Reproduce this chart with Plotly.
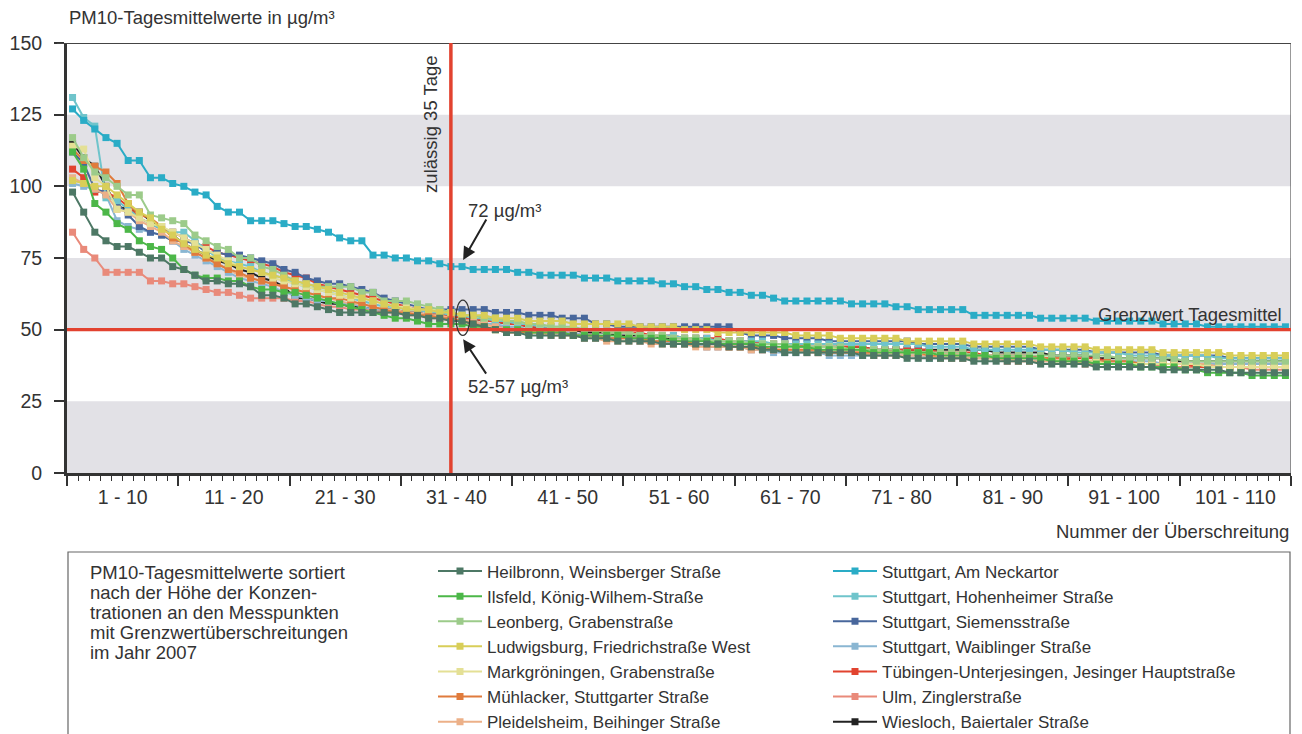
import plotly.graph_objects as go

# ---------------- data ----------------
exceed_no = list(range(1, 111))
x_tick_labels = ["1 - 10", "11 - 20", "21 - 30", "31 - 40", "41 - 50", "51 - 60",
                 "61 - 70", "71 - 80", "81 - 90", "91 - 100", "101 - 110"]
y_ticks = [0, 25, 50, 75, 100, 125, 150]

heilbronn = [98,91,84,81,79,79,77,75,75,72, 71,69,67,67,66,66,65,62,62,61,
             59,59,58,57,56,56,56,56,56,56, 55,55,54,54,53,53,52,51,50,49,
             49,48,48,48,48,48,47,47,47,46, 46,46,46,45,45,45,45,45,45,44,
             44,44,43,43,42,42,42,42,42,42, 42,41,41,41,41,40,40,40,40,40,
             40,39,39,39,39,39,39,38,38,38, 38,38,37,37,37,37,37,37,36,36,
             36,36,36,36,35,35,35,35,35,35]
ilsfeld = [112,106,94,91,87,85,81,79,78,75, 71,69,68,68,67,67,65,64,64,63,
           63,62,61,60,59,58,57,56,55,54, 54,53,52,52,52,52,51,51,50,50,
           50,49,49,49,49,48,48,48,48,48, 47,47,47,47,46,46,46,46,45,45,
           45,45,44,44,44,44,44,43,43,43, 43,43,42,42,42,42,42,42,41,41,
           41,41,41,40,40,40,40,40,39,39, 39,39,38,38,38,38,37,37,37,37,
           36,36,35,35,35,35,34,34,34,34]
leonberg = [117,110,105,103,100,97,97,90,89,88, 87,83,81,79,78,75,75,72,71,69,
            67,66,65,65,65,65,63,63,60,60, 60,59,58,57,56,55,55,54,54,53,
            53,52,52,51,51,51,50,50,49,49, 49,48,48,48,47,47,47,46,46,46,
            46,45,45,45,45,44,44,44,44,44, 43,43,43,43,43,42,42,42,42,42,
            42,41,41,41,41,41,41,41,41,41, 41,41,41,41,40,40,40,40,40,40,
            39,39,39,39,39,39,39,39,39,39]
ludwigsburg = [102,101,100,100,97,94,91,89,85,83, 80,78,76,75,73,72,71,70,69,68,
               67,66,65,64,63,62,61,60,59,58, 57,57,57,56,56,55,55,55,54,54,
               54,53,53,53,53,52,52,52,52,52, 52,51,51,51,51,50,50,50,49,49,
               49,49,49,49,49,48,48,48,48,47, 47,47,47,47,47,46,46,46,46,46,
               46,45,45,45,45,45,45,44,44,44, 44,44,43,43,43,43,43,43,42,42,
               42,42,42,42,41,41,41,41,41,41]
markgroeningen = [114,113,103,100,92,91,89,87,86,84, 82,80,78,76,74,72,71,70,68,67,
                  66,65,64,63,62,61,61,60,59,58, 58,57,57,57,56,55,55,54,54,53,
                  53,52,52,51,51,50,50,50,49,49, 49,48,48,48,47,47,47,46,46,46,
                  46,45,45,45,45,44,44,44,44,43, 43,43,43,42,42,42,42,42,41,41,
                  41,41,41,40,40,40,40,40,39,39, 39,39,39,38,38,38,38,38,38,38,
                  38,38,37,37,37,37,37,37,37,37]
muehlacker = [113,109,107,105,101,94,90,89,86,82, 80,77,75,73,71,70,68,67,66,65,
              64,63,62,61,61,60,59,58,57,56, 56,55,55,54,54,53,52,51,50,49,
              49,49,49,49,49,48,48,48,47,47, 47,47,46,46,46,46,45,45,45,44,
              44,44,44,43,43,43,43,43,42,42, 42,42,42,42,42,42,42,41,41,41,
              41,41,41,40,40,40,40,40,40,40, 39,39,39,39,39,39,38,38,38,38,
              38,38,37,37,37,37,37,37,37,37]
pleidelsheim = [103,101,99,97,92,91,88,86,84,81, 79,77,75,73,71,69,68,67,66,65,
                64,63,62,61,60,59,59,58,57,57, 56,56,55,55,54,53,53,52,51,50,
                50,49,49,48,48,48,47,47,46,46, 46,46,45,45,45,45,44,44,44,44,
                44,43,43,43,43,43,42,42,42,42, 42,42,41,41,41,41,41,41,40,40,
                40,40,40,40,40,39,39,39,39,39, 39,39,39,38,38,38,38,38,38,38,
                38,38,38,37,37,37,37,37,37,37]
neckartor = [127,123,120,117,115,109,109,103,103,101, 100,98,97,93,91,91,88,88,88,87,
             86,86,85,84,82,81,81,76,76,75, 75,74,74,73,72,72,71,71,71,71,
             70,70,69,69,69,69,68,68,68,67, 67,67,67,66,66,65,65,64,64,63,
             63,62,62,61,60,60,60,60,60,60, 59,59,59,59,58,58,57,57,57,57,
             57,55,55,55,55,55,55,54,54,54, 54,54,53,53,53,53,53,53,52,52,
             52,52,51,51,51,51,51,51,51,51]
hohenheimer = [131,124,121,96,95,92,89,87,85,84, 84,81,78,75,74,73,72,70,69,68,
               66,65,64,63,62,61,60,59,58,58, 57,57,56,56,55,55,54,54,53,53,
               52,52,51,51,51,50,50,50,49,49, 49,48,48,48,48,47,47,47,46,46,
               46,46,46,45,45,45,45,45,45,45, 45,45,45,45,45,45,45,44,44,44,
               44,43,43,43,43,43,43,43,43,43, 42,42,42,42,42,41,41,41,41,41,
               41,41,41,40,40,40,40,40,40,40]
siemens = [112,108,99,98,94,90,86,84,83,81, 81,80,77,77,76,76,75,74,73,71,
           70,68,67,66,66,65,64,63,61,60, 59,58,57,57,57,57,57,57,56,56,
           56,55,55,55,54,54,54,52,52,51, 51,51,51,51,51,51,51,51,51,51,
           49,48,48,48,47,47,47,47,46,46, 46,46,46,46,46,46,45,45,45,45,
           45,44,44,44,44,44,44,43,43,43, 43,43,42,42,42,42,42,42,41,41,
           41,41,41,41,40,40,40,40,40,40]
waiblinger = [101,100,99,97,88,86,85,84,83,81, 78,76,74,72,70,68,67,66,65,63,
              62,61,60,60,59,59,58,57,57,56, 56,55,55,54,54,53,53,52,52,51,
              51,50,50,49,49,49,48,48,47,47, 47,46,46,46,45,45,45,44,44,44,
              44,43,43,42,42,42,42,42,41,41, 41,41,41,41,41,41,41,40,40,40,
              40,40,40,40,40,40,40,39,39,39, 39,39,39,39,39,39,39,39,38,38,
              38,38,38,38,38,38,38,38,38,38]
tuebingen = [106,103,98,98,96,93,89,87,85,84, 82,80,79,77,76,75,74,73,72,70,
             69,68,66,65,64,63,62,61,60,59, 58,57,56,55,55,54,54,53,53,52,
             52,51,51,51,50,50,50,50,49,49, 49,49,48,48,48,47,47,47,47,46,
             46,46,45,45,45,45,44,44,44,44, 44,44,43,43,43,43,43,43,42,42,
             42,42,41,41,41,41,41,40,40,40, 40,40,40,39,39,39,38,38,38,38,
             38,37,37,37,37,37,37,37,37,37]
ulm = [84,78,75,70,70,70,70,67,67,66, 66,65,64,63,63,62,61,61,61,61,
       60,60,59,58,58,57,57,57,56,56, 55,55,54,54,53,53,52,52,51,51,
       50,50,50,49,49,49,48,48,47,47, 47,46,46,46,45,45,45,44,44,44,
       44,43,43,43,43,43,43,42,42,42, 42,42,41,41,41,41,41,41,40,40,
       40,40,40,40,39,39,39,39,39,39, 39,38,38,38,38,38,38,38,37,37,
       37,37,37,37,37,37,36,36,36,36]
wiesloch = [115,110,107,100,93,92,91,88,86,83, 80,78,76,74,73,71,70,68,67,65,
            61,61,60,59,59,58,58,57,57,57, 56,56,55,55,55,54,54,53,53,52,
            52,51,51,50,50,50,49,49,49,48, 48,48,48,47,47,47,47,46,46,46,
            46,45,45,45,45,44,44,44,44,44, 44,44,43,43,43,43,43,43,43,43,
            43,43,43,42,42,42,42,42,41,41, 41,41,40,40,40,40,40,40,40,39,
            39,39,39,39,39,39,39,39,39,39]

# (name, values, colour, legend rank) -- drawing order; legend is 2 visible columns
series = [
    ("Wiesloch, Baiertaler Straße", wiesloch, "#222222", 20),
    ("Ulm, Zinglerstraße", ulm, "#e98a7a", 17),
    ("Tübingen-Unterjesingen, Jesinger Hauptstraße", tuebingen, "#e1432f", 14),
    ("Stuttgart, Waiblinger Straße", waiblinger, "#8ab6d2", 11),
    ("Stuttgart, Siemensstraße", siemens, "#48679c", 8),
    ("Stuttgart, Hohenheimer Straße", hohenheimer, "#6fc4cb", 5),
    ("Pleidelsheim, Beihinger Straße", pleidelsheim, "#ecb088", 19),
    ("Mühlacker, Stuttgarter Straße", muehlacker, "#e07b3c", 16),
    ("Markgröningen, Grabenstraße", markgroeningen, "#e4e095", 13),
    ("Leonberg, Grabenstraße", leonberg, "#9ccb8a", 7),
    ("Ludwigsburg, Friedrichstraße West", ludwigsburg, "#d8ce58", 10),
    ("Ilsfeld, König-Wilhem-Straße", ilsfeld, "#4cb748", 4),
    ("Heilbronn, Weinsberger Straße", heilbronn, "#4d7865", 1),
    ("Stuttgart, Am Neckartor", neckartor, "#2aacc6", 2),
]
spacer_ranks = [3, 6, 9, 12, 15, 18, 21]   # empty third legend column

box_text_lines = ["PM10-Tagesmittelwerte sortiert", "nach der Höhe der Konzen-",
                  "trationen an den Messpunkten", "mit Grenzwertüberschreitungen",
                  "im Jahr 2007"]

FONT = "Liberation Sans, Arial, sans-serif"
TXT = "#333333"
# page offset of the figure (default body margin) and target plot box on screen
OFF = 8
PL, PR, PT, PB = 67, 1291, 43, 473
FIG_W, FIG_H = 1302 - OFF, 734 - OFF


def px(sx):
    return (sx - PL) / (PR - PL)


def py(sy):
    return (PB - sy) / (PB - PT)


fig = go.Figure()
for name, vals, col, rank in series:
    fig.add_trace(go.Scatter(
        x=[n - 0.5 for n in exceed_no[:len(vals)]], y=vals, name=name,
        mode="lines+markers", legendrank=rank,
        line=dict(color=col, width=2),
        marker=dict(symbol="square", size=7, color=col),
        hoverinfo="x+y+name",
    ))
for r in spacer_ranks:
    fig.add_trace(go.Scatter(x=[None], y=[None], name=" ", mode="lines", legendrank=r,
                             line=dict(color="rgba(0,0,0,0)"), hoverinfo="skip"))

# invisible trace to carry the label axis
fig.add_trace(go.Scatter(x=[None], y=[None], xaxis="x2", showlegend=False, hoverinfo="skip"))

shapes = []
for y0, y1 in [(0, 25), (50, 75), (100, 125)]:
    shapes.append(dict(type="rect", xref="x", yref="y", x0=0, x1=110, y0=y0, y1=y1,
                       fillcolor="#e2e1e6", line=dict(width=0), layer="below"))
shapes.append(dict(type="line", xref="paper", yref="y", x0=px(57), x1=1, y0=150, y1=150,
                   line=dict(color="#444444", width=2), layer="above"))
shapes.append(dict(type="line", xref="x", yref="y", x0=110, x1=110, y0=0, y1=150,
                   line=dict(color="#555555", width=1.2), layer="above"))
shapes.append(dict(type="line", xref="x", yref="y", x0=0, x1=110, y0=50, y1=50,
                   line=dict(color="#e2422f", width=3.2), layer="above"))
shapes.append(dict(type="line", xref="x", yref="y", x0=34.5, x1=34.5, y0=0, y1=150,
                   line=dict(color="#e2422f", width=3.5), layer="above"))
shapes.append(dict(type="circle", xref="x", yref="y", x0=34.95, x1=36.2, y0=48.0, y1=60.3,
                   line=dict(color="#333333", width=1.2), layer="above"))
shapes.append(dict(type="rect", xref="paper", yref="paper", x0=px(68), x1=px(1290),
                   y0=py(745), y1=py(552), line=dict(color="#666666", width=1.2),
                   fillcolor="rgba(0,0,0,0)"))

AF = dict(size=18.5, color=TXT, family=FONT)
annotations = [
    dict(text="PM10-Tagesmittelwerte in µg/m³", xref="paper", yref="paper", x=px(67), y=py(18),
         xanchor="left", yanchor="middle", showarrow=False, font=AF),
    dict(text="Nummer der Überschreitung", xref="paper", yref="paper", x=px(1291), y=py(531),
         xanchor="right", yanchor="middle", showarrow=False, font=AF),
    dict(text="zulässig 35 Tage", xref="x", yref="y", x=34.5, y=150, xshift=-8,
         yshift=-11, xanchor="right", yanchor="top", textangle=-90, showarrow=False, font=AF),
    dict(text="Grenzwert Tagesmittel", xref="x", yref="y", x=110, y=50, xshift=-7,
         yshift=3, xanchor="right", yanchor="bottom", showarrow=False, font=AF),
    dict(text="72 µg/m³", xref="x", yref="y", x=35.9, y=91.5, xanchor="left",
         yanchor="middle", showarrow=False, font=AF),
    dict(text="", xref="x", yref="y", x=35.6, y=74.3, ax=24, ay=-42, showarrow=True,
         arrowhead=2, arrowsize=1.3, arrowwidth=2, arrowcolor="#222222"),
    dict(text="52-57 µg/m³", xref="x", yref="y", x=35.9, y=30.3, xanchor="left",
         yanchor="middle", showarrow=False, font=AF),
    dict(text="", xref="x", yref="y", x=35.6, y=46.7, ax=24, ay=36, showarrow=True,
         arrowhead=2, arrowsize=1.3, arrowwidth=2, arrowcolor="#222222"),
]
for i, line in enumerate(box_text_lines):
    annotations.append(dict(text=line, xref="paper", yref="paper", x=px(88),
                            y=py(572 + 20.2 * i), xanchor="left", yanchor="middle",
                            showarrow=False, font=AF))

fig.update_layout(
    width=FIG_W, height=FIG_H,
    margin=dict(l=PL - OFF, r=FIG_W - (PR - OFF), t=PT - OFF, b=FIG_H - (PB - OFF),
                autoexpand=False),
    paper_bgcolor="white", plot_bgcolor="white",
    font=dict(family=FONT, color=TXT, size=18),
    shapes=shapes, annotations=annotations,
    showlegend=True,
    legend=dict(orientation="h", xref="container", yref="container",
                x=(433 - OFF) / FIG_W, xanchor="left",
                y=1 - (553.5 - OFF) / FIG_H, yanchor="top",
                entrywidth=336, entrywidthmode="pixels", itemwidth=44,
                font=dict(size=17.0, color=TXT, family=FONT),
                bgcolor="rgba(0,0,0,0)", traceorder="normal"),
    xaxis=dict(range=[0, 110], tickvals=[0, 10, 20, 30, 40, 50, 60, 70, 80, 90, 100, 110],
               showticklabels=False, ticks="outside", ticklen=10, tickwidth=2,
               tickcolor="#333333", showline=True, linecolor="#333333", linewidth=3,
               showgrid=False, zeroline=False, automargin=False,
               minor=dict(dtick=1, tick0=0, ticks="outside", ticklen=5, tickwidth=1,
                          tickcolor="#333333", showgrid=False)),
    xaxis2=dict(range=[0, 110], overlaying="x", anchor="y", side="bottom",
                tickvals=[5, 15, 25, 35, 45, 55, 65, 75, 85, 95, 105], ticktext=x_tick_labels,
                ticks="outside", ticklen=7, tickcolor="rgba(0,0,0,0)", showline=False,
                showgrid=False, zeroline=False, automargin=False,
                tickfont=dict(size=19.5, color=TXT, family=FONT)),
    yaxis=dict(range=[0, 150], tickvals=y_ticks, ticks="outside", ticklen=10, tickwidth=2,
               tickcolor="#333333", showline=True, linecolor="#333333", linewidth=3,
               ticklabelstandoff=8, automargin=False,
               showgrid=False, zeroline=False, tickfont=dict(size=19.5, color=TXT, family=FONT)),
)

fig.write_html("out.html")
